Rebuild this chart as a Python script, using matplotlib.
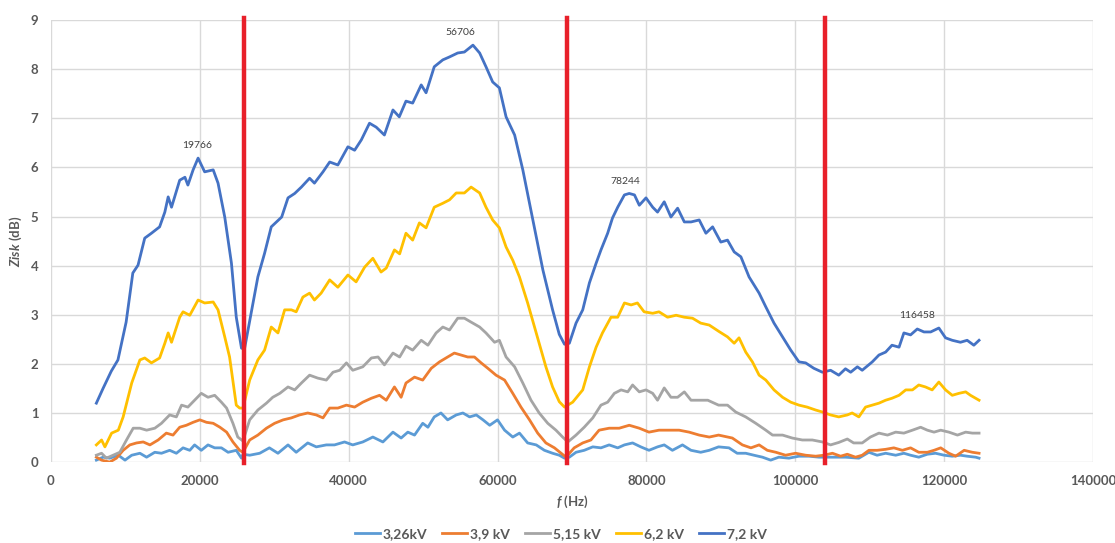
import matplotlib
matplotlib.use("Agg")
import matplotlib.pyplot as plt

plt.rcParams['font.family'] = ['Lato', 'DejaVu Sans']
plt.rcParams['mathtext.fontset'] = 'custom'
plt.rcParams['mathtext.it'] = 'Lato:italic:bold'
plt.rcParams['mathtext.rm'] = 'Lato:bold'

# ---- data ----
labels = ["3,26kV", "3,9 kV", "5,15 kV", "6,2 kV", "7,2 kV"]
colors = ["#5B9BD5", "#ED7D31", "#A5A5A5", "#FFC000", "#4472C4"]

f_326 = [6100, 7000, 7900, 9050, 9950, 10850, 11950, 12850, 13950, 14850, 15950, 16850, 17750, 18650, 19300,
         20200, 21100, 22000, 22900, 23800, 24900, 25600, 25800, 26700, 28050, 29350, 30500, 31850, 32950,
         34500, 35650, 37000, 38100, 39450, 40550, 41900, 43250, 44600, 45950, 47050, 47950, 48850, 49950,
         50650, 51500, 52400, 53300, 54450, 55350, 56250, 57150, 58050, 58950, 60000, 60950, 62050, 62950,
         64050, 65200, 66300, 67400, 68300, 69000, 69650, 70550, 71650, 72800, 73900, 75000, 76150, 77050,
         78150, 79250, 80350, 81500, 82400, 83500, 84850, 86000, 87300, 88450, 89700, 91100, 92200, 93350,
         94450, 95600, 96700, 97800, 99150, 100500, 101850, 103200, 104300, 105450, 106750, 108550, 109900,
         111000, 112150, 113500, 114600, 115500, 116600, 117750, 118850, 120000, 121100, 122200, 123100,
         124250, 124700]
v_326 = [0.04, 0.10, 0.08, 0.14, 0.04, 0.14, 0.18, 0.10, 0.20, 0.18, 0.24, 0.18, 0.29, 0.24, 0.35,
         0.24, 0.35, 0.29, 0.29, 0.20, 0.24, 0.08, 0.16, 0.14, 0.18, 0.29, 0.18, 0.35, 0.20,
         0.39, 0.31, 0.35, 0.35, 0.41, 0.35, 0.41, 0.51, 0.41, 0.61, 0.49, 0.61, 0.55, 0.79,
         0.71, 0.92, 1.00, 0.86, 0.96, 1.00, 0.92, 0.96, 0.86, 0.75, 0.86, 0.65, 0.51, 0.59,
         0.39, 0.35, 0.24, 0.18, 0.14, 0.08, 0.10, 0.20, 0.24, 0.31, 0.29, 0.35, 0.29, 0.35,
         0.39, 0.31, 0.24, 0.31, 0.35, 0.24, 0.35, 0.24, 0.20, 0.24, 0.31, 0.29, 0.18, 0.18,
         0.14, 0.10, 0.04, 0.10, 0.08, 0.12, 0.12, 0.10, 0.10, 0.10, 0.10, 0.08, 0.20,
         0.14, 0.18, 0.14, 0.18, 0.14, 0.10, 0.16, 0.18, 0.14, 0.12, 0.14, 0.12,
         0.10, 0.08]

f_39 = [6100, 6800, 7900, 8800, 9700, 10600, 11500, 12400, 13300, 14400, 15500, 16400, 17300, 18200, 19100,
        20000, 20900, 21800, 22700, 23600, 24450, 25350, 25800, 26700, 27800, 28950, 30050, 31200, 32300,
        33400, 34500, 35650, 36550, 37450, 38550, 39700, 40800, 41900, 43050, 44150, 45050, 46150, 47050,
        47700, 48850, 49950, 51100, 52200, 53300, 54200, 55100, 56000, 56900, 57800, 58700, 59800, 60950,
        62050, 63150, 64300, 65400, 66500, 67650, 68550, 69200, 70300, 71450, 72550, 73650, 75000, 76350,
        77700, 79050, 80350, 81700, 83050, 84400, 85750, 87100, 88450, 89700, 91550, 92900, 94050, 95150,
        96250, 97400, 98700, 100050, 101400, 102750, 103850, 105000, 106100, 107000, 108100, 109000,
        109900, 111000, 112150, 113250, 114400, 115500, 116600, 117750, 118650, 119550, 120650, 121550,
        122700, 123800, 124700]
v_39 = [0.10, 0.04, 0.00, 0.08, 0.24, 0.35, 0.39, 0.41, 0.35, 0.45, 0.59, 0.55, 0.71, 0.75, 0.81,
        0.86, 0.81, 0.79, 0.71, 0.61, 0.41, 0.24, 0.20, 0.45, 0.55, 0.69, 0.79, 0.86, 0.90,
        0.96, 1.00, 0.96, 0.90, 1.10, 1.10, 1.16, 1.12, 1.22, 1.30, 1.36, 1.26, 1.53, 1.32,
        1.61, 1.73, 1.67, 1.91, 2.04, 2.14, 2.22, 2.18, 2.14, 2.14, 2.02, 1.91, 1.77, 1.67,
        1.40, 1.12, 0.86, 0.59, 0.39, 0.29, 0.18, 0.10, 0.29, 0.39, 0.45, 0.65, 0.69, 0.69,
        0.75, 0.69, 0.61, 0.65, 0.65, 0.65, 0.61, 0.55, 0.51, 0.55, 0.49, 0.35, 0.29, 0.35,
        0.24, 0.20, 0.14, 0.18, 0.14, 0.12, 0.14, 0.18, 0.12, 0.16, 0.10, 0.14,
        0.24, 0.24, 0.26, 0.29, 0.24, 0.29, 0.20, 0.20, 0.24, 0.29, 0.18, 0.12,
        0.24, 0.20, 0.18]

f_515 = [6100, 6800, 7450, 8350, 9250, 10150, 11050, 11950, 12850, 13950, 14850, 15950, 16850, 17550, 18400,
         19300, 20200, 21100, 22000, 22900, 23600, 24450, 25100, 25800, 26700, 27800, 28950, 29800, 30750,
         31850, 32750, 33650, 34750, 35850, 37000, 37900, 38800, 39700, 40550, 41900, 43050, 43950, 44800,
         45950, 46850, 47700, 48600, 49750, 50650, 51750, 52650, 53550, 54650, 55550, 56450, 57600, 58450,
         59600, 60250, 61150, 62300, 63400, 64500, 65600, 66750, 67850, 68750, 69450, 70550, 71650, 72800,
         73900, 74800, 75700, 76600, 77500, 78150, 79050, 79950, 80850, 81500, 82400, 83300, 84200, 85100,
         86000, 87100, 88250, 89700, 90900, 92000, 93350, 94700, 96050, 96950, 98300, 99600, 100950,
         102300, 103650, 104750, 105850, 107000, 107850, 109000, 110100, 111250, 112400, 113500, 114600,
         115750, 116850, 117750, 118650, 119550, 120650, 121800, 122900, 123800, 124700]
v_515 = [0.14, 0.18, 0.08, 0.14, 0.20, 0.45, 0.69, 0.69, 0.65, 0.69, 0.79, 0.96, 0.92, 1.16, 1.12,
         1.26, 1.40, 1.32, 1.36, 1.22, 1.10, 0.79, 0.51, 0.43, 0.86, 1.06, 1.20, 1.32, 1.40,
         1.53, 1.47, 1.61, 1.77, 1.71, 1.67, 1.83, 1.87, 2.02, 1.87, 1.94, 2.12, 2.14, 1.98,
         2.22, 2.14, 2.36, 2.28, 2.48, 2.38, 2.63, 2.75, 2.69, 2.93, 2.93, 2.85, 2.75, 2.63,
         2.44, 2.48, 2.14, 1.94, 1.61, 1.26, 1.00, 0.79, 0.65, 0.51, 0.41, 0.55, 0.71, 0.90,
         1.16, 1.22, 1.40, 1.47, 1.43, 1.57, 1.43, 1.47, 1.40, 1.26, 1.51, 1.32, 1.32, 1.43,
         1.26, 1.26, 1.26, 1.16, 1.16, 1.02, 0.92, 0.79, 0.65, 0.55, 0.55, 0.49, 0.45,
         0.45, 0.41, 0.35, 0.40, 0.47, 0.39, 0.39, 0.51, 0.59, 0.55, 0.61, 0.59,
         0.65, 0.71, 0.65, 0.61, 0.65, 0.61, 0.55, 0.61, 0.59, 0.59]

f_62 = [6100, 6800, 7250, 8150, 9050, 9700, 10850, 11950, 12600, 13500, 14600, 15300, 15750, 16200, 17300,
        17750, 18650, 19770, 20650, 21800, 22450, 23350, 24000, 24900, 25350, 25800, 26700, 27800, 28700,
        29600, 30500, 31400, 32300, 32950, 33850, 34750, 35400, 36300, 37450, 38550, 39900, 41000, 42150,
        43250, 44350, 45050, 46150, 46850, 47700, 48600, 49500, 50400, 51500, 52650, 53550, 54450, 55550,
        56450, 57600, 58450, 59350, 60250, 61150, 62050, 62950, 64050, 65200, 66500, 67400, 68300, 69000,
        70100, 71450, 72350, 73250, 74100, 75250, 76150, 77050, 77950, 78800, 79700, 80850, 81700, 82850,
        84000, 85100, 86200, 87300, 88450, 89750, 90900, 91800, 92450, 93350, 94250, 95150, 96050, 97150,
        98300, 99400, 100500, 101600, 102750, 103650, 104750, 105850, 107000, 107650, 108550, 109450,
        110350, 111250, 112150, 113000, 113950, 114850, 115750, 116600, 117500, 118400, 119300, 120200,
        121100, 122000, 122900, 123550, 124700]
v_62 = [0.35, 0.45, 0.31, 0.59, 0.65, 0.92, 1.61, 2.08, 2.12, 2.02, 2.12, 2.42, 2.63, 2.44, 2.95,
        3.06, 2.99, 3.30, 3.24, 3.26, 3.10, 2.55, 2.14, 1.16, 1.10, 1.10, 1.67, 2.08, 2.28,
        2.75, 2.63, 3.10, 3.10, 3.06, 3.36, 3.44, 3.30, 3.44, 3.71, 3.56, 3.81, 3.67, 3.97,
        4.15, 3.87, 3.95, 4.32, 4.24, 4.66, 4.52, 4.87, 4.77, 5.19, 5.27, 5.34, 5.48, 5.48,
        5.60, 5.48, 5.19, 4.93, 4.77, 4.38, 4.11, 3.77, 3.24, 2.63, 1.94, 1.53, 1.23, 1.12,
        1.22, 1.47, 1.94, 2.34, 2.63, 2.95, 2.95, 3.24, 3.20, 3.24, 3.06, 3.03, 3.06, 2.95,
        2.99, 2.95, 2.93, 2.83, 2.79, 2.66, 2.55, 2.42, 2.53, 2.24, 2.04, 1.77, 1.67, 1.47,
        1.32, 1.22, 1.16, 1.12, 1.06, 1.02, 0.96, 0.92, 0.96, 1.00, 0.92, 1.12,
        1.16, 1.20, 1.26, 1.30, 1.36, 1.47, 1.47, 1.57, 1.53, 1.47, 1.63, 1.47,
        1.36, 1.40, 1.43, 1.36, 1.26]

f_72 = [6100, 7000, 8100, 9000, 10100, 11000, 11700, 12600, 13500, 14600, 15300, 15750, 16200, 17300, 18000,
        18400, 19100, 19770, 20650, 21800, 22450, 23350, 24250, 24900, 25600, 26000, 26900, 27800, 28700,
        29600, 30300, 31000, 31850, 32750, 33650, 34750, 35400, 36550, 37450, 38550, 39900, 40800, 41700,
        42800, 43700, 44800, 45950, 46800, 47700, 48600, 49750, 50400, 51500, 52650, 53550, 54650, 55550,
        56700, 57600, 58450, 59350, 60250, 61150, 62300, 63400, 64750, 66100, 67400, 68300, 69000, 69650,
        70550, 71450, 72350, 73250, 73900, 74800, 75450, 76150, 77050, 77700, 78400, 79050, 79950, 80850,
        81500, 82400, 83300, 84200, 85100, 86000, 87100, 88000, 88900, 90000, 90900, 91800, 92700, 93800,
        95150, 96050, 97150, 98300, 99400, 100500, 101400, 102500, 103650, 104750, 105850, 106750, 107450,
        108350, 109000, 110350, 111250, 112150, 113000, 113950, 114600, 115500, 116400, 117300, 118200,
        119300, 120200, 121100, 122200, 123100, 124000, 124700]
v_72 = [1.20, 1.50, 1.85, 2.08, 2.85, 3.85, 4.01, 4.56, 4.66, 4.79, 5.09, 5.40, 5.19, 5.74, 5.80,
        5.64, 5.95, 6.19, 5.91, 5.95, 5.68, 4.99, 4.05, 2.95, 2.32, 2.30, 3.03, 3.77, 4.25,
        4.79, 4.89, 4.99, 5.38, 5.47, 5.60, 5.78, 5.68, 5.91, 6.11, 6.05, 6.42, 6.35, 6.56,
        6.90, 6.82, 6.66, 7.17, 7.03, 7.35, 7.31, 7.68, 7.52, 8.05, 8.19, 8.25, 8.33, 8.35,
        8.49, 8.33, 8.05, 7.74, 7.62, 7.03, 6.66, 5.95, 4.93, 3.91, 3.10, 2.60, 2.40, 2.42,
        2.83, 3.10, 3.65, 4.05, 4.32, 4.66, 4.97, 5.19, 5.44, 5.47, 5.44, 5.23, 5.38, 5.19,
        5.09, 5.30, 4.99, 5.17, 4.89, 4.89, 4.93, 4.66, 4.79, 4.48, 4.52, 4.28, 4.18, 3.77,
        3.44, 3.16, 2.83, 2.55, 2.28, 2.04, 2.02, 1.91, 1.83, 1.87, 1.77, 1.90, 1.83,
        1.94, 1.87, 2.04, 2.18, 2.24, 2.38, 2.34, 2.63, 2.59, 2.71, 2.65, 2.65,
        2.73, 2.53, 2.48, 2.44, 2.48, 2.38, 2.48]

red_lines = [26000, 69300, 104000]
peak_labels = ["19766", "56706", "78244", "116458"]
peak_x = [19600, 55000, 77200, 116400]
peak_y = [6.44, 8.74, 5.72, 2.98]

x_ticks = [0, 20000, 40000, 60000, 80000, 100000, 120000, 140000]
y_ticks = [0, 1, 2, 3, 4, 5, 6, 7, 8, 9]

# ---- figure ----
fig = plt.figure(figsize=(11.15, 5.43), dpi=100)
ax = fig.add_axes([0.0457, 0.149, 0.9345, 0.814])

series_f = [f_326, f_39, f_515, f_62, f_72]
series_v = [v_326, v_39, v_515, v_62, v_72]
for fs, vs, c, lab in zip(series_f, series_v, colors, labels):
    ax.plot(fs, vs, color=c, lw=2.0, label=lab, solid_joinstyle='round')

for xr in red_lines:
    ax.plot([xr, xr], [-0.02, 9.05], color="#E8202A", lw=3.2, clip_on=False, zorder=5)

for t, px, py in zip(peak_labels, peak_x, peak_y):
    ax.text(px, py, t, fontsize=7.5, color="#404040", ha="center", va="center")

ax.set_xlim(0, 140000)
ax.set_ylim(0, 9)
ax.set_xticks(x_ticks)
ax.set_yticks(y_ticks)
ax.grid(True, color="#D9D9D9", lw=1.0)
ax.set_axisbelow(True)
for s in ax.spines.values():
    s.set_visible(False)
ax.tick_params(length=0, labelsize=9.5, labelcolor="#595959", pad=9)
for lbl in ax.get_xticklabels() + ax.get_yticklabels():
    lbl.set_fontweight("bold")

ax.set_xlabel(r"$\it{f}$ (Hz)", fontsize=9.5, color="#595959", fontweight="bold", labelpad=5)
ax.set_ylabel(r"$\it{Zisk}$ (dB)", fontsize=9.5, color="#595959", fontweight="bold", labelpad=5)

leg = fig.legend(loc="lower center", bbox_to_anchor=(0.503, -0.018), ncol=5, frameon=False,
                 fontsize=10, handlelength=1.8, columnspacing=1.1, handletextpad=0.2)
for t in leg.get_texts():
    t.set_color("#595959")
    t.set_fontweight("bold")

fig.savefig("out.png", dpi=100)
